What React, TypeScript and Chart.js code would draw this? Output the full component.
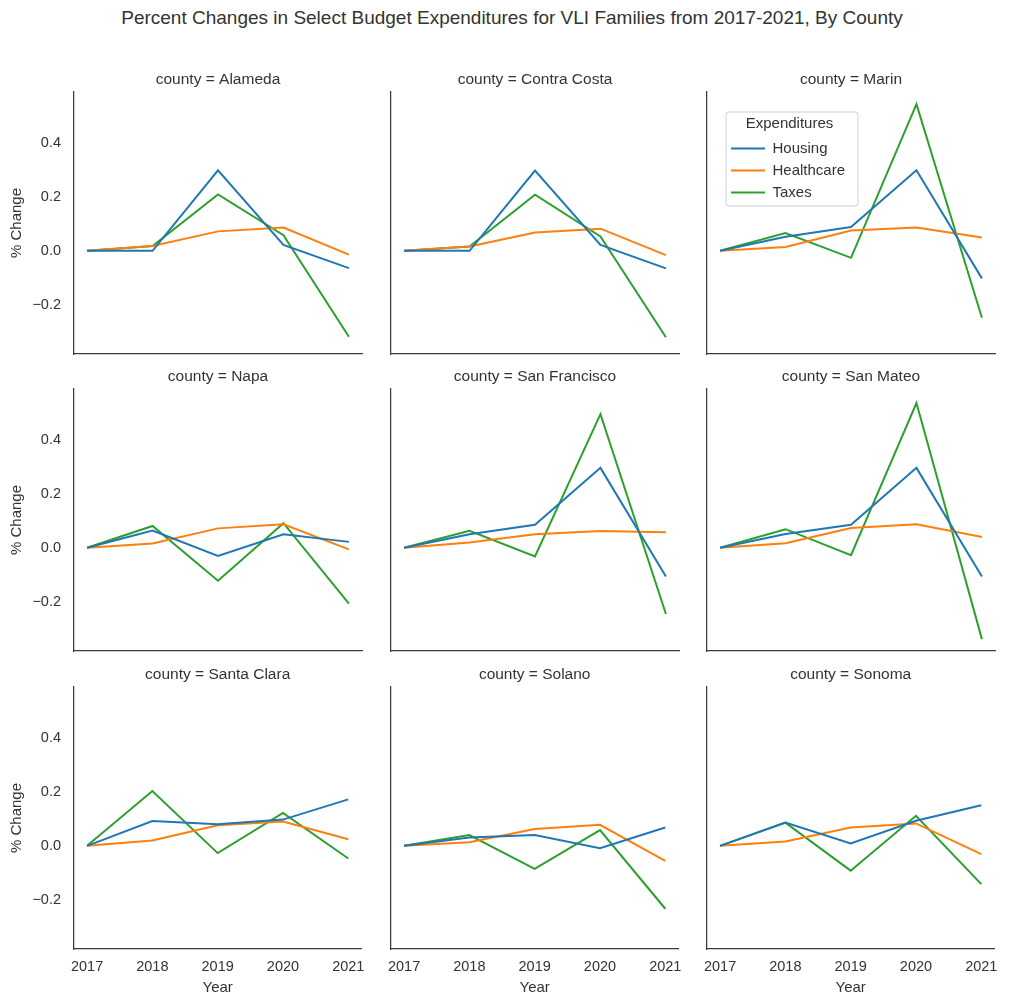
import React, { useEffect, useRef } from 'react';
import { Chart, registerables } from 'chart.js';

Chart.register(...registerables);

// ---------------- data ----------------
const years = [2017, 2018, 2019, 2020, 2021];
const counties = [
  'Alameda', 'Contra Costa', 'Marin',
  'Napa', 'San Francisco', 'San Mateo',
  'Santa Clara', 'Solano', 'Sonoma',
];
const seriesNames = ['Housing', 'Healthcare', 'Taxes'];
const seriesColors = ['#1f77b4', '#ff7f0e', '#2ca02c'];

// one row per county (same order as counties), one value per year
const housing = [
  [0, 0.0, 0.298, 0.022, -0.064],
  [0, 0.0, 0.297, 0.022, -0.065],
  [0, 0.052, 0.088, 0.298, -0.102],
  [0, 0.064, -0.03, 0.05, 0.022],
  [0, 0.05, 0.085, 0.296, -0.106],
  [0, 0.051, 0.085, 0.296, -0.106],
  [0, 0.092, 0.08, 0.097, 0.172],
  [0, 0.031, 0.04, -0.009, 0.068],
  [0, 0.086, 0.009, 0.093, 0.15],
];
const healthcare = [
  [0, 0.018, 0.072, 0.086, -0.014],
  [0, 0.016, 0.068, 0.082, -0.016],
  [0, 0.014, 0.075, 0.086, 0.049],
  [0, 0.016, 0.072, 0.087, -0.006],
  [0, 0.02, 0.05, 0.062, 0.058],
  [0, 0.017, 0.073, 0.087, 0.04],
  [0, 0.02, 0.076, 0.09, 0.024],
  [0, 0.013, 0.062, 0.078, -0.056],
  [0, 0.016, 0.068, 0.083, -0.031],
];
const taxes = [
  [0, 0.018, 0.209, 0.058, -0.318],
  [0, 0.016, 0.208, 0.053, -0.32],
  [0, 0.066, -0.026, 0.543, -0.248],
  [0, 0.081, -0.122, 0.091, -0.207],
  [0, 0.063, -0.032, 0.495, -0.245],
  [0, 0.069, -0.027, 0.536, -0.338],
  [0, 0.203, -0.027, 0.122, -0.047],
  [0, 0.04, -0.085, 0.058, -0.233],
  [0, 0.086, -0.092, 0.111, -0.142],
];
const yTicks = [-0.2, 0, 0.2, 0.4];
const yMin = -0.382;
const yMax = 0.588;
const xMin = 2016.8;
const xMax = 2021.2;

// ---------------- layout / style ----------------
const FONT = '"Liberation Sans", Arial, Helvetica, sans-serif';
const TXT = '#333333';
const AXIS = '#3c3c3c';
const PLOT_W = 288;
const PLOT_H = 262;
const colLeft = [74, 391, 707];
const rowTop = [92, 389, 687];
const PAD_L = 74;
const PAD_T = 32;
const PAD_R = 12;
const PAD_B = 55;
const SUB_SIZE = 15.5;
const SUB_PAD_B = 3;
const TITLE_H = SUB_SIZE * 1.2 + SUB_PAD_B;

const fmtY = (v: number) => (v < -1e-9 ? '\u2212' : '') + Math.abs(v).toFixed(1);

const legendPlugin = {
  id: 'legendInside',
  afterLayout(chart: any) {
    const lg = chart.legend;
    if (!lg) return;
    lg.left = chart.chartArea.left + 17;
    lg.top = chart.chartArea.top + 20;
    lg.right = lg.left + lg.width;
    lg.bottom = lg.top + lg.height;
  },
  beforeDraw(chart: any) {
    const lg = chart.legend;
    if (!lg || !lg.legendHitBoxes || !lg.legendHitBoxes.length) return;
    const hbs = lg.legendHitBoxes;
    const x0 = lg.left + 2;
    const y0 = lg.top;
    const x1 = Math.max(...hbs.map((h: any) => h.left + h.width)) + 13;
    const last = hbs[hbs.length - 1];
    const y1 = last.top + last.height + 6;
    const ctx = chart.ctx;
    ctx.save();
    ctx.beginPath();
    if (ctx.roundRect) ctx.roundRect(x0, y0, x1 - x0, y1 - y0, 3);
    else ctx.rect(x0, y0, x1 - x0, y1 - y0);
    ctx.fillStyle = 'rgba(255,255,255,0.85)';
    ctx.fill();
    ctx.lineWidth = 1;
    ctx.strokeStyle = '#d0d0d0';
    ctx.stroke();
    ctx.restore();
  },
};

function Panel({ index }: { index: number }) {
  const ref = useRef<HTMLCanvasElement | null>(null);
  const row = Math.floor(index / 3);
  const col = index % 3;
  const w = PAD_L + PLOT_W + PAD_R;
  const h = PAD_T + PLOT_H + PAD_B;

  useEffect(() => {
    if (!ref.current) return;
    const showY = col === 0;
    const showX = row === 2;
    const showLegend = index === 2;
    const allSeries = [housing, healthcare, taxes];
    const tickFont = { size: 14.5, family: FONT, weight: 'normal' as const };
    const labelFont = { size: 15, family: FONT, weight: 'normal' as const };
    const subFont = { size: SUB_SIZE, family: FONT, weight: 'normal' as const };

    const chart = new Chart(ref.current, {
      type: 'line',
      data: {
        datasets: seriesNames.map((name, s) => ({
          label: name,
          data: years.map((yr, i) => ({ x: yr, y: allSeries[s][index][i] })),
          borderColor: seriesColors[s],
          backgroundColor: seriesColors[s],
          borderWidth: 2,
          pointRadius: 0,
          pointHoverRadius: 0,
          tension: 0,
          fill: false,
        })),
      },
      options: {
        animation: false,
        responsive: false,
        events: [],
        layout: { padding: { top: PAD_T - TITLE_H, right: PAD_R, bottom: 0, left: 0 } },
        scales: {
          x: {
            type: 'linear',
            min: xMin,
            max: xMax,
            grid: { display: false, drawTicks: false },
            border: { display: true, color: AXIS, width: 1.25 },
            ticks: {
              display: showX,
              padding: 9,
              color: TXT,
              font: tickFont,
              autoSkip: false,
              maxRotation: 0,
              callback: (v: any) => String(v),
            },
            afterBuildTicks: (s: any) => {
              s.ticks = years.map((v) => ({ value: v }));
            },
            afterFit: (s: any) => {
              s.height = PAD_B;
            },
            title: { display: showX, text: 'Year', color: TXT, font: labelFont, padding: 7.2 },
          },
          y: {
            type: 'linear',
            min: yMin,
            max: yMax,
            grid: { display: false, drawTicks: false },
            border: { display: true, color: AXIS, width: 1.25 },
            ticks: {
              display: showY,
              padding: 13,
              color: TXT,
              font: tickFont,
              callback: (v: any) => fmtY(Number(v)),
            },
            afterBuildTicks: (s: any) => {
              s.ticks = yTicks.map((v) => ({ value: v }));
            },
            afterFit: (s: any) => {
              s.width = PAD_L;
            },
            title: { display: showY, text: '% Change', color: TXT, font: labelFont, padding: 8 },
          },
        },
        plugins: {
          title: {
            display: true,
            text: 'county = ' + counties[index],
            fullSize: false,
            color: TXT,
            font: subFont,
            padding: { top: 0, bottom: SUB_PAD_B },
          },
          legend: showLegend
            ? {
                display: true,
                position: 'chartArea' as any,
                align: 'start',
                title: {
                  display: true,
                  text: 'Expenditures',
                  color: TXT,
                  font: labelFont,
                  padding: { top: 4, bottom: 0 },
                },
                labels: {
                  color: TXT,
                  font: labelFont,
                  boxWidth: 34,
                  boxHeight: 2,
                  padding: 7,
                  generateLabels: (c: any) =>
                    Chart.defaults.plugins.legend.labels
                      .generateLabels(c)
                      .map((l: any) => ({ ...l, lineWidth: 0, fillStyle: l.strokeStyle })),
                },
              }
            : { display: false },
          tooltip: { enabled: false },
        },
      } as any,
      plugins: showLegend ? [legendPlugin] : [],
    });
    return () => chart.destroy();
  }, [index, row, col]);

  return (
    <canvas
      ref={ref}
      width={w}
      height={h}
      style={{
        position: 'absolute',
        left: colLeft[col] - PAD_L,
        top: rowTop[row] - PAD_T,
        width: w,
        height: h,
      }}
    />
  );
}

export default function App() {
  return (
    <div
      style={{
        position: 'absolute',
        left: 0,
        top: 0,
        width: 1024,
        height: 1007,
        background: '#ffffff',
        overflow: 'hidden',
        fontFamily: FONT,
      }}
    >
      <div
        style={{
          position: 'absolute',
          left: 0,
          top: 7,
          width: 1024,
          textAlign: 'center',
          fontSize: 19,
          lineHeight: '22px',
          color: TXT,
        }}
      >
        Percent Changes in Select Budget Expenditures for VLI Families from 2017-2021, By County
      </div>
      {counties.map((c, i) => (
        <Panel key={c} index={i} />
      ))}
    </div>
  );
}
